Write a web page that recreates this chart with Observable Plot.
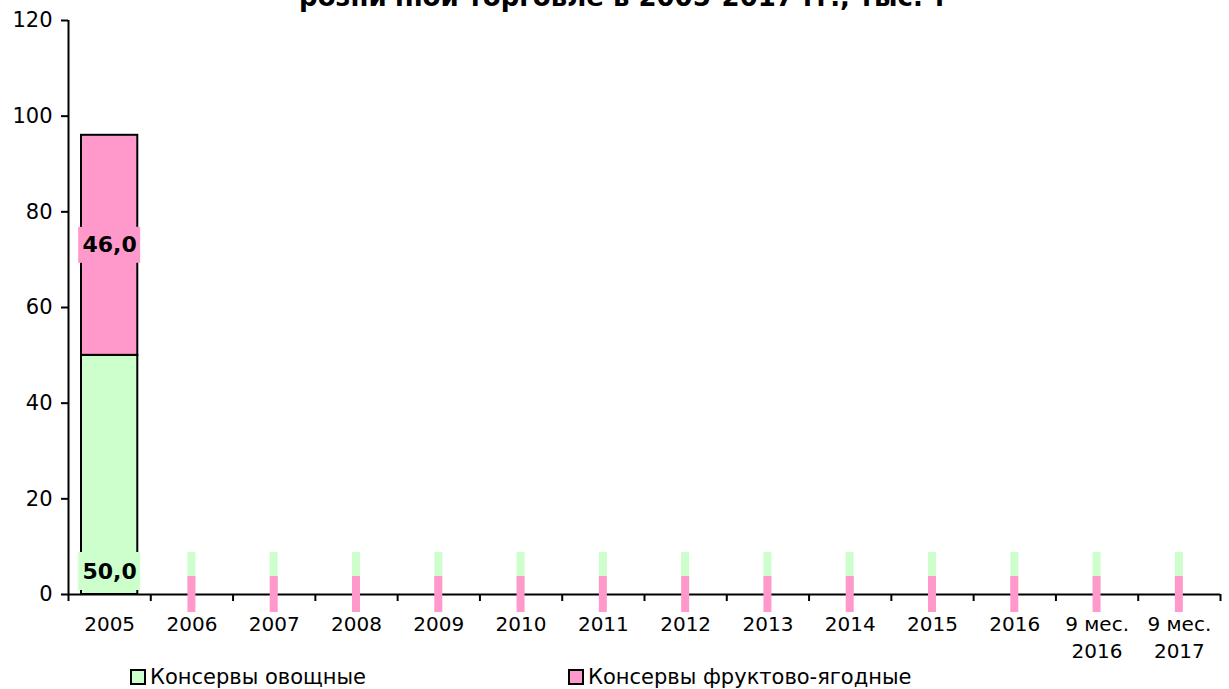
<!DOCTYPE html>
<html><head><meta charset="utf-8">
<script src="https://cdn.jsdelivr.net/npm/d3@7"></script>
<script src="https://cdn.jsdelivr.net/npm/@observablehq/plot@0.6"></script>
<style>
body{margin:0;background:#fff;overflow:hidden;width:1229px;height:689px;position:relative;font-family:"DejaVu Sans",Verdana,sans-serif;}
#title{position:absolute;left:0;width:1246px;top:-13px;text-align:center;font-weight:bold;font-size:26px;line-height:20px;white-space:nowrap;z-index:2;}
#chart{position:absolute;left:0;top:0;z-index:1;}
.leg{position:absolute;top:667px;font-size:21px;line-height:20px;display:flex;align-items:center;white-space:nowrap;z-index:2;}
.sw{width:12px;height:12px;border:2px solid #000;margin-right:4px;}
</style></head>
<body>
<div id="chart"></div>
<div id="title">розничной торговле в 2005-2017 гг., тыс. т</div>
<div id="legend"></div>
<script>
const categories = ["2005","2006","2007","2008","2009","2010","2011","2012","2013","2014","2015","2016","9 мес.\n2016","9 мес.\n2017"];
const vegetable = [50,0,0,0,0,0,0,0,0,0,0,0,0,0];
const fruit = [46,0,0,0,0,0,0,0,0,0,0,0,0,0];
const seriesNames = ["Консервы овощные","Консервы фруктово-ягодные"];
const colors = ["#CCFFCC","#FF99CC"];
const yTicks = [0,20,40,60,80,100,120];

const fmt = v => v > 0 ? v.toFixed(1).replace(".", ",") : "";
const rows = [];
categories.forEach((c,i)=>{
  rows.push({i, s:seriesNames[0], y1:0, y2:vegetable[i], v:vegetable[i]});
  rows.push({i, s:seriesNames[1], y1:vegetable[i], y2:vegetable[i]+fruit[i], v:fruit[i]});
});
const greenRows = rows.filter(r=>r.s===seriesNames[0]);
const pinkRows = rows.filter(r=>r.s===seriesNames[1]);
const bw = 1152/categories.length;

const chart = Plot.plot({
  width: 1229, height: 665,
  marginTop: 20, marginLeft: 68, marginRight: 9, marginBottom: 71,
  style: {fontFamily: "DejaVu Sans, Verdana, sans-serif", fontSize: "20px", color: "black", background: "white", overflow: "visible"},
  x: {type: "linear", domain: [0, categories.length]},
  y: {domain: [0, 120]},
  color: {domain: seriesNames, range: colors},
  marks: [
    Plot.axisY({ticks: yTicks, tickSize: 7, tickPadding: 9, strokeWidth: 2, label: null, fontSize: 21}),
    Plot.axisX({ticks: d3.range(categories.length+1), tickSize: 7, strokeWidth: 2, tickFormat: () => "", label: null}),
    Plot.axisX({ticks: d3.range(categories.length).map(i=>i+0.5), tickSize: 0, tickPadding: 17, lineHeight: 1.35, tickFormat: d => categories[Math.floor(d)], label: null, fontSize: 20}),
    Plot.ruleX([0], {stroke: "black", strokeWidth: 2}),
    Plot.ruleY([0], {stroke: "black", strokeWidth: 2}),
    Plot.rect(rows.filter(r=>r.v>0), {x1: "i", x2: r=>r.i+1, y1: "y1", y2: "y2", fill: "s", stroke: "black", strokeWidth: 2, insetLeft: 13, insetRight: 13}),
    Plot.rect(greenRows, {x1: "i", x2: r=>r.i+1, y1: 0, y2: 0, fill: colors[0], insetTop: -42, insetBottom: 4,
      insetLeft: (bw-8)/2, insetRight: (bw-8)/2, filter: r=>r.v===0}),
    Plot.rect(greenRows, {x1: "i", x2: r=>r.i+1, y1: 0, y2: 0, fill: colors[0], insetTop: -42, insetBottom: 4,
      insetLeft: (bw-62)/2, insetRight: (bw-62)/2, filter: r=>r.v>0}),
    Plot.rect(pinkRows, {x1: "i", x2: r=>r.i+1, y1: r=>(r.y1+r.y2)/2, y2: r=>(r.y1+r.y2)/2, fill: colors[1], insetTop: -18, insetBottom: -18,
      insetLeft: (bw-8)/2, insetRight: (bw-8)/2, filter: r=>r.v===0}),
    Plot.rect(pinkRows, {x1: "i", x2: r=>r.i+1, y1: r=>(r.y1+r.y2)/2, y2: r=>(r.y1+r.y2)/2, fill: colors[1], insetTop: -18, insetBottom: -18,
      insetLeft: (bw-62)/2, insetRight: (bw-62)/2, filter: r=>r.v>0}),
    Plot.text(greenRows, {x: r=>r.i+0.5, y: 0, dy: -23, text: r=>fmt(r.v), fontWeight: "bold", fontSize: 22, fill: "black"}),
    Plot.text(pinkRows, {x: r=>r.i+0.5, y: r=>(r.y1+r.y2)/2, text: r=>fmt(r.v), fontWeight: "bold", fontSize: 22, fill: "black"})
  ]
});
document.getElementById("chart").appendChild(chart);

const legendPos = [130, 568];
const legend = document.getElementById("legend");
seriesNames.forEach((n,k)=>{
  const d = document.createElement("div");
  d.className = "leg";
  d.style.left = legendPos[k] + "px";
  d.innerHTML = `<span class="sw" style="background:${colors[k]}"></span><span>${n}</span>`;
  legend.appendChild(d);
});
</script>
</body></html>
